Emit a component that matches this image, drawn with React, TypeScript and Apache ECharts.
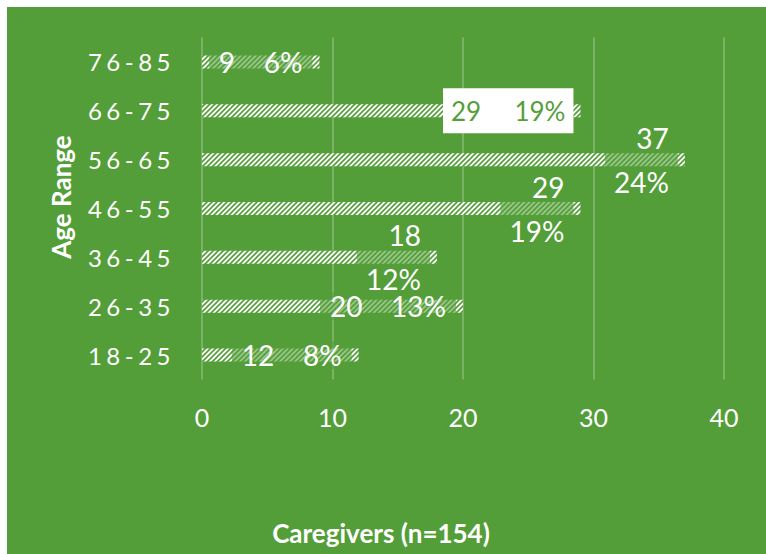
import React, { useEffect, useRef } from "react";
import * as echarts from "echarts";

const categories = ["18-25", "26-35", "36-45", "46-55", "56-65", "66-75", "76-85"];
const counts = [12, 20, 18, 29, 37, 29, 9];
const percents = [8, 13, 12, 19, 24, 19, 6];
const xMin = 0;
const xMax = 40;
const xInterval = 10;
const xTitle = "Caregivers (n=154)";
const yTitle = "Age Range";

const GREEN = "#549E39";
const FONT = "Lato, 'Open Sans', sans-serif";
const twoLine = new Set(["36-45", "46-55", "56-65"]);
const highlighted = new Set(["66-75"]);

function makeHatch(): HTMLCanvasElement {
  const n = 5;
  const c = document.createElement("canvas");
  c.width = n;
  c.height = n;
  const g = c.getContext("2d")!;
  g.fillStyle = "#ffffff";
  g.fillRect(0, 0, n, n);
  g.strokeStyle = GREEN;
  g.lineWidth = 1.6;
  const seg = (x1: number, y1: number, x2: number, y2: number) => {
    g.beginPath();
    g.moveTo(x1, y1);
    g.lineTo(x2, y2);
    g.stroke();
  };
  seg(-1, n + 1, n + 1, -1);
  seg(-1, 1, 1, -1);
  seg(n - 1, n + 1, n + 1, n - 1);
  return c;
}

export default function App() {
  const ref = useRef<HTMLDivElement>(null);
  useEffect(() => {
    if (!ref.current) return;
    const chart = echarts.init(ref.current, null, { renderer: "svg" });
    const data = counts.map((v, i) => {
      const cat = categories[i];
      const p = percents[i];
      let label: any;
      if (highlighted.has(cat)) {
        label = {
          formatter: `${v}     ${p}%`,
          color: GREEN,
          backgroundColor: "#ffffff",
          fontSize: 26,
          lineHeight: 31,
          padding: [7, 8],
        };
      } else if (twoLine.has(cat)) {
        label = {
          formatter: `${v}\n\n${p}%`,
          lineHeight: 22,
          padding: [0, 9],
        };
      } else {
        label = { formatter: `${v}    ${p}%`, padding: [0, 10] };
      }
      return { value: v, label };
    });
    chart.setOption({
      animation: false,
      backgroundColor: GREEN,
      grid: { left: 195, right: 42, top: 30.5, bottom: 174.5, containLabel: false },
      xAxis: {
        type: "value",
        min: xMin,
        max: xMax,
        interval: xInterval,
        axisLine: { show: false },
        axisTick: { show: false },
        splitLine: { show: true, lineStyle: { color: "rgba(255,255,255,0.3)", width: 1.5 } },
        axisLabel: { color: "#ffffff", fontSize: 25, fontFamily: FONT, margin: 25 },
      },
      yAxis: {
        type: "category",
        data: categories,
        axisLine: { show: false },
        axisTick: { show: false },
        splitLine: { show: false },
        axisLabel: { color: "#ffffff", fontSize: 24, fontFamily: FONT, margin: 27 },
      },
      series: [
        {
          type: "bar",
          data,
          barWidth: 13,
          itemStyle: {
            color: { image: makeHatch(), repeat: "repeat" },
          },
          label: {
            show: true,
            position: "insideRight",
            distance: 7,
            color: "#ffffff",
            fontSize: 28,
            fontFamily: FONT,
            backgroundColor: "rgba(84,158,57,0.6)",
          },
        },
      ],
      graphic: [
        {
          type: "text",
          x: 374,
          y: 526,
          style: {
            text: xTitle,
            fill: "#ffffff",
            font: `bold 26px ${FONT}`,
            textAlign: "center",
            textVerticalAlign: "middle",
          },
        },
        {
          type: "text",
          x: 54,
          y: 190,
          rotation: Math.PI / 2,
          style: {
            text: yTitle,
            fill: "#ffffff",
            font: `bold 26px ${FONT}`,
            textAlign: "center",
            textVerticalAlign: "middle",
          },
        },
      ],
    });
    const catSet = new Set(categories);
    const spaceOut = () => {
      ref.current?.querySelectorAll("text").forEach((t) => {
        if (catSet.has((t.textContent || "").trim())) {
          t.setAttribute("letter-spacing", "4.5");
        }
        t.setAttribute("xml:space", "preserve");
        (t as any).style.whiteSpace = "pre";
      });
    };
    spaceOut();
    chart.on("finished", spaceOut);
    return () => chart.dispose();
  }, []);
  return (
    <div
      ref={ref}
      style={{ position: "absolute", left: 7, top: 7, width: 759, height: 547 }}
    />
  );
}
